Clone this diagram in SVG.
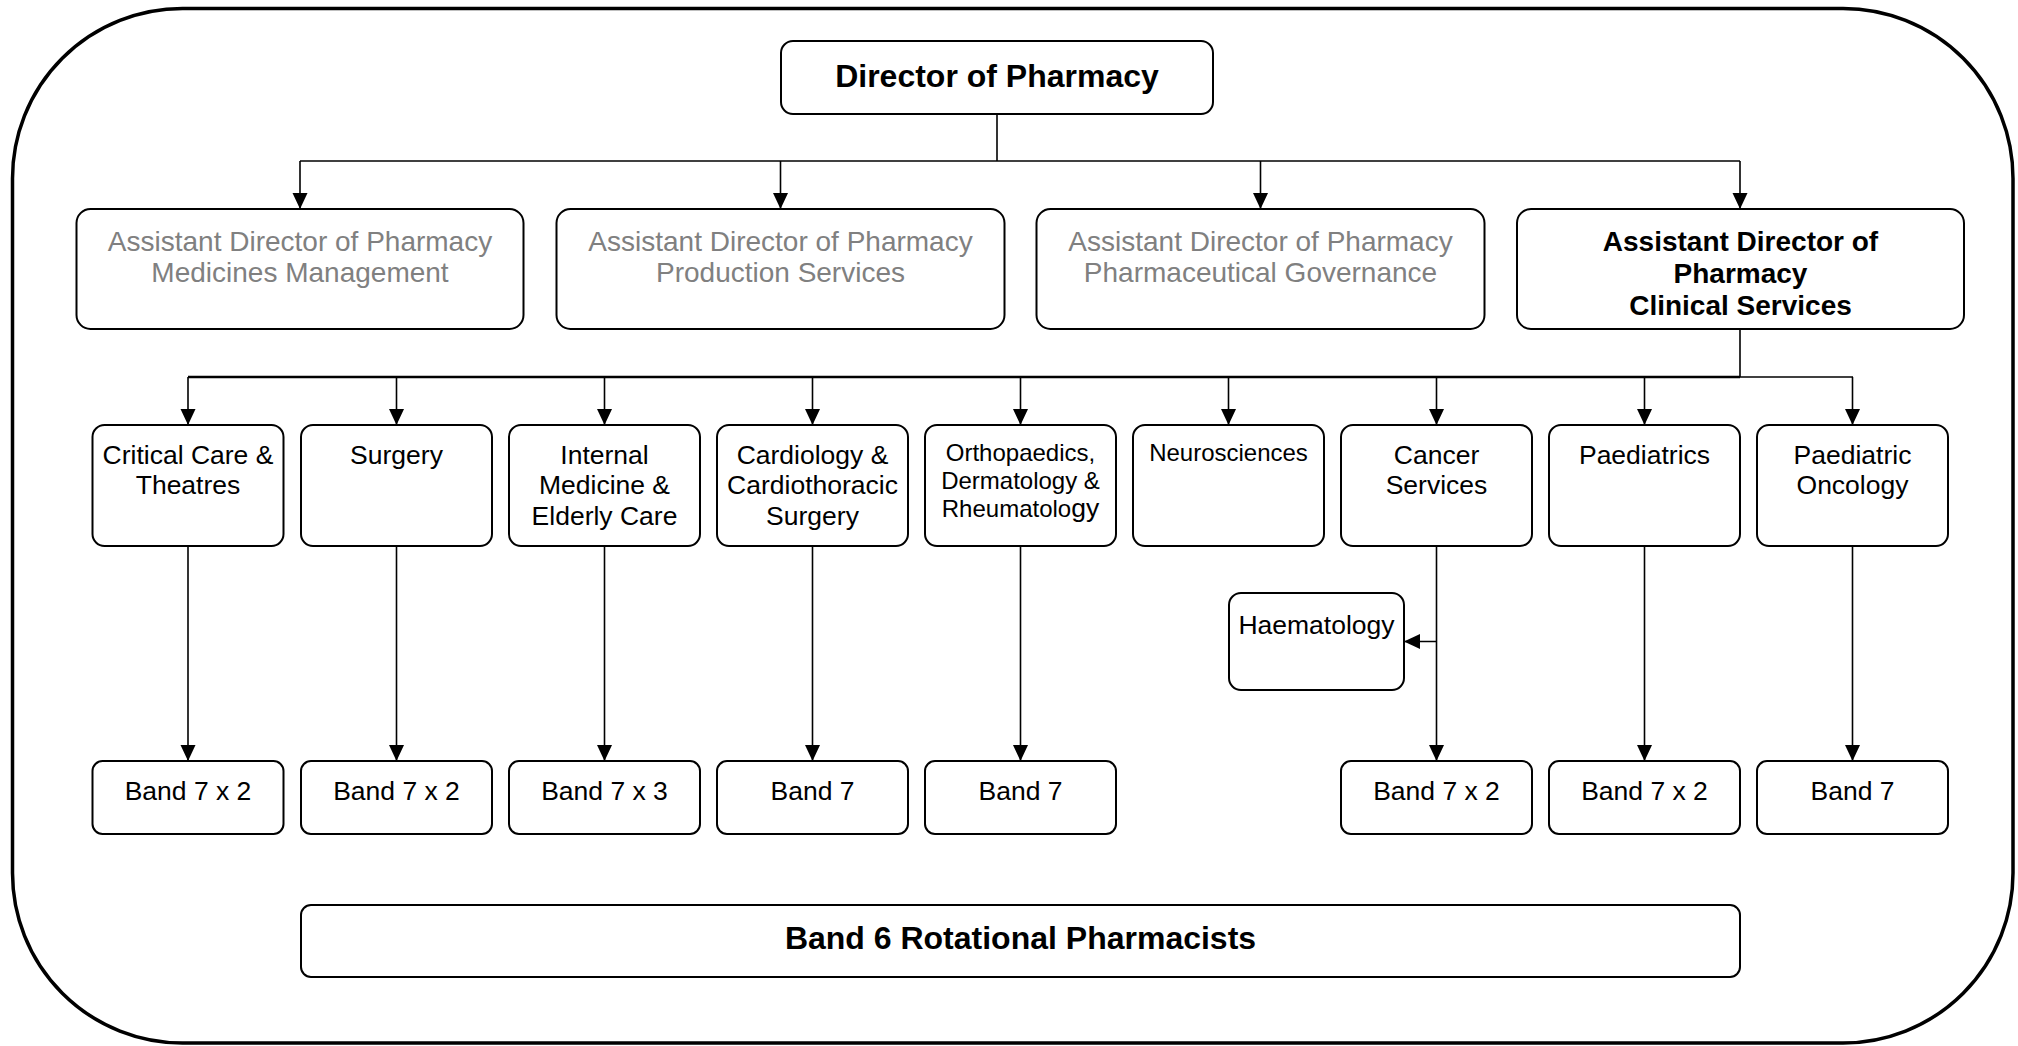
<svg xmlns="http://www.w3.org/2000/svg" width="2018" height="1046" viewBox="0 0 2018 1046">
<style>
  .frame { fill: #ffffff; stroke: #000000; stroke-width: 3.5; }
  .box { fill: #ffffff; stroke: #000000; stroke-width: 2; }
  .conn { fill: none; stroke: #000000; stroke-width: 1.6; }
  .t { font-family: "Liberation Sans", Arial, sans-serif; fill: #000000; text-anchor: middle; }
  .grey { fill: #808080; font-size: 28px; }
  .b28 { font-weight: bold; font-size: 28px; }
  .b32 { font-weight: bold; font-size: 32px; }
  .n { font-size: 26.5px; }
  .s { font-size: 24px; }
</style>
<defs>
  <marker id="arr" markerUnits="userSpaceOnUse" markerWidth="16" markerHeight="16" viewBox="0 0 16 16" refX="16" refY="8" orient="auto">
    <path d="M0,0.5 L16,8 L0,15.5 Z" fill="#000000"/>
  </marker>
</defs>
<rect class="frame" x="12.5" y="8.5" width="2000.5" height="1034.5" rx="170" ry="170"/>

<g id="connectors">
  <path class="conn" d="M997,114 V161"/>
  <path class="conn" d="M300,161 H1740"/>
  <path class="conn" d="M300,161 V209" marker-end="url(#arr)"/>
  <path class="conn" d="M780.5,161 V209" marker-end="url(#arr)"/>
  <path class="conn" d="M1260.5,161 V209" marker-end="url(#arr)"/>
  <path class="conn" d="M1740,161 V209" marker-end="url(#arr)"/>
  <path class="conn" d="M1740,329 V377"/>
  <path class="conn" d="M188,377 H1740" style="stroke-width:2.6"/>
  <path class="conn" d="M1740,377 H1853"/>
  <path class="conn" d="M188,377 V425" marker-end="url(#arr)"/>
  <path class="conn" d="M396.5,377 V425" marker-end="url(#arr)"/>
  <path class="conn" d="M604.5,377 V425" marker-end="url(#arr)"/>
  <path class="conn" d="M812.5,377 V425" marker-end="url(#arr)"/>
  <path class="conn" d="M1020.5,377 V425" marker-end="url(#arr)"/>
  <path class="conn" d="M1228.5,377 V425" marker-end="url(#arr)"/>
  <path class="conn" d="M1436.5,377 V425" marker-end="url(#arr)"/>
  <path class="conn" d="M1644.5,377 V425" marker-end="url(#arr)"/>
  <path class="conn" d="M1852.5,377 V425" marker-end="url(#arr)"/>
  <path class="conn" d="M188,546 V761" marker-end="url(#arr)"/>
  <path class="conn" d="M396.5,546 V761" marker-end="url(#arr)"/>
  <path class="conn" d="M604.5,546 V761" marker-end="url(#arr)"/>
  <path class="conn" d="M812.5,546 V761" marker-end="url(#arr)"/>
  <path class="conn" d="M1020.5,546 V761" marker-end="url(#arr)"/>
  <path class="conn" d="M1436.5,546 V761" marker-end="url(#arr)"/>
  <path class="conn" d="M1644.5,546 V761" marker-end="url(#arr)"/>
  <path class="conn" d="M1852.5,546 V761" marker-end="url(#arr)"/>
  <path class="conn" d="M1436.5,641.5 H1404" marker-end="url(#arr)"/>
</g>

<g id="director">
  <rect class="box" x="781" y="41" width="432" height="73" rx="12"/>
  <text class="t b32" x="997" y="86.5">Director of Pharmacy</text>
</g>

<g id="adp-medicines">
  <rect class="box" x="76.5" y="209" width="447" height="120" rx="14"/>
  <text class="t grey" x="300" y="250.5">Assistant Director of Pharmacy</text>
  <text class="t grey" x="300" y="282">Medicines Management</text>
</g>
<g id="adp-production">
  <rect class="box" x="556.5" y="209" width="448" height="120" rx="14"/>
  <text class="t grey" x="780.5" y="250.5">Assistant Director of Pharmacy</text>
  <text class="t grey" x="780.5" y="282">Production Services</text>
</g>
<g id="adp-governance">
  <rect class="box" x="1036.5" y="209" width="448" height="120" rx="14"/>
  <text class="t grey" x="1260.5" y="250.5">Assistant Director of Pharmacy</text>
  <text class="t grey" x="1260.5" y="282">Pharmaceutical Governance</text>
</g>
<g id="adp-clinical">
  <rect class="box" x="1517" y="209" width="447" height="120" rx="14"/>
  <text class="t b28" x="1740.5" y="250.5">Assistant Director of</text>
  <text class="t b28" x="1740.5" y="282.5">Pharmacy</text>
  <text class="t b28" x="1740.5" y="314.5">Clinical Services</text>
</g>

<g id="critical-care">
  <rect class="box" x="92.5" y="425" width="191" height="121" rx="12"/>
  <text class="t n" x="188" y="463.5">Critical Care &amp;</text>
  <text class="t n" x="188" y="494">Theatres</text>
</g>
<g id="surgery">
  <rect class="box" x="301" y="425" width="191" height="121" rx="12"/>
  <text class="t n" x="396.5" y="463.5">Surgery</text>
</g>
<g id="internal-medicine">
  <rect class="box" x="509" y="425" width="191" height="121" rx="12"/>
  <text class="t n" x="604.5" y="463.5">Internal</text>
  <text class="t n" x="604.5" y="494">Medicine &amp;</text>
  <text class="t n" x="604.5" y="524.5">Elderly Care</text>
</g>
<g id="cardiology">
  <rect class="box" x="717" y="425" width="191" height="121" rx="12"/>
  <text class="t n" x="812.5" y="463.5">Cardiology &amp;</text>
  <text class="t n" x="812.5" y="494">Cardiothoracic</text>
  <text class="t n" x="812.5" y="524.5">Surgery</text>
</g>
<g id="orthopaedics">
  <rect class="box" x="925" y="425" width="191" height="121" rx="12"/>
  <text class="t s" x="1020.5" y="460.5">Orthopaedics,</text>
  <text class="t s" x="1020.5" y="488.5">Dermatology &amp;</text>
  <text class="t s" x="1020.5" y="516.5">Rheumatolo<tspan style="font-size:26.5px">gy</tspan></text>
</g>
<g id="neurosciences">
  <rect class="box" x="1133" y="425" width="191" height="121" rx="12"/>
  <text class="t s" x="1228.5" y="460.5">Neurosciences</text>
</g>
<g id="cancer-services">
  <rect class="box" x="1341" y="425" width="191" height="121" rx="12"/>
  <text class="t n" x="1436.5" y="463.5">Cancer</text>
  <text class="t n" x="1436.5" y="494">Services</text>
</g>
<g id="paediatrics">
  <rect class="box" x="1549" y="425" width="191" height="121" rx="12"/>
  <text class="t n" x="1644.5" y="463.5">Paediatrics</text>
</g>
<g id="paediatric-oncology">
  <rect class="box" x="1757" y="425" width="191" height="121" rx="12"/>
  <text class="t n" x="1852.5" y="463.5">Paediatric</text>
  <text class="t n" x="1852.5" y="494">Oncology</text>
</g>

<g id="haematology">
  <rect class="box" x="1229" y="593" width="175" height="97" rx="12"/>
  <text class="t n" x="1316.5" y="633.5">Haematology</text>
</g>

<g id="band7-critical-care">
  <rect class="box" x="92.5" y="761" width="191" height="73" rx="10"/>
  <text class="t n" x="188" y="799.5">Band 7 x 2</text>
</g>
<g id="band7-surgery">
  <rect class="box" x="301" y="761" width="191" height="73" rx="10"/>
  <text class="t n" x="396.5" y="799.5">Band 7 x 2</text>
</g>
<g id="band7-internal-medicine">
  <rect class="box" x="509" y="761" width="191" height="73" rx="10"/>
  <text class="t n" x="604.5" y="799.5">Band 7 x 3</text>
</g>
<g id="band7-cardiology">
  <rect class="box" x="717" y="761" width="191" height="73" rx="10"/>
  <text class="t n" x="812.5" y="799.5">Band 7</text>
</g>
<g id="band7-orthopaedics">
  <rect class="box" x="925" y="761" width="191" height="73" rx="10"/>
  <text class="t n" x="1020.5" y="799.5">Band 7</text>
</g>
<g id="band7-cancer">
  <rect class="box" x="1341" y="761" width="191" height="73" rx="10"/>
  <text class="t n" x="1436.5" y="799.5">Band 7 x 2</text>
</g>
<g id="band7-paediatrics">
  <rect class="box" x="1549" y="761" width="191" height="73" rx="10"/>
  <text class="t n" x="1644.5" y="799.5">Band 7 x 2</text>
</g>
<g id="band7-paediatric-oncology">
  <rect class="box" x="1757" y="761" width="191" height="73" rx="10"/>
  <text class="t n" x="1852.5" y="799.5">Band 7</text>
</g>

<g id="band6">
  <rect class="box" x="301" y="905" width="1439" height="72" rx="10"/>
  <text class="t b32" x="1020.5" y="949">Band 6 Rotational Pharmacists</text>
</g>
</svg>
